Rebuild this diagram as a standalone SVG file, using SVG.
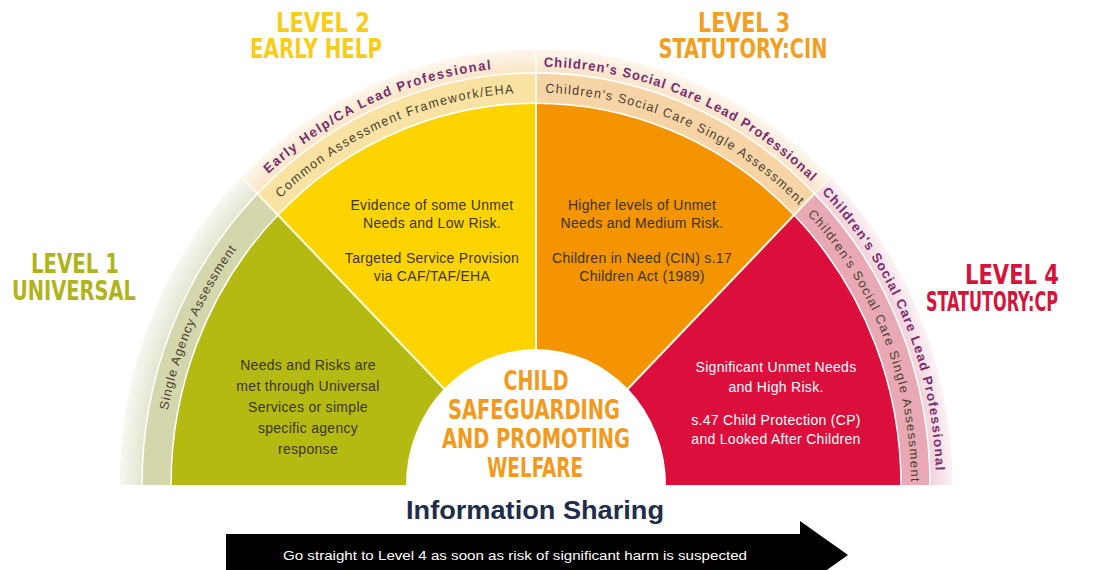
<svg xmlns="http://www.w3.org/2000/svg" width="1096" height="570" viewBox="0 0 1096 570">
<style>
.head{font-family:"Liberation Sans Narrow","DejaVu Sans Condensed","Liberation Sans",sans-serif;font-weight:bold;font-size:27px;text-anchor:middle}
.center{font-family:"Liberation Sans Narrow","DejaVu Sans Condensed","Liberation Sans",sans-serif;font-weight:bold;font-size:26px;text-anchor:middle;fill:#f39a1e}
.body{font-family:"Liberation Sans",Arial,sans-serif;font-size:14px;text-anchor:middle;fill:#3b3522;letter-spacing:0.3px}
.bodyw{font-family:"Liberation Sans",Arial,sans-serif;font-size:14px;text-anchor:middle;fill:#ffffff;letter-spacing:0.3px}
.lead{font-family:"Liberation Sans",Arial,sans-serif;font-weight:bold;font-size:13px;fill:#7a2c6e}
.assess{font-family:"Liberation Sans",Arial,sans-serif;font-size:12.5px;fill:#4a4030}
.div{stroke:#fffbe6;stroke-width:2;fill:none}
.ring{stroke:#ffffff;stroke-width:1.5;fill:none}
</style>
<defs>
<radialGradient id="fade" gradientUnits="userSpaceOnUse" cx="0" cy="0" r="416">
<stop offset="0.947" stop-color="#ffffff" stop-opacity="0"/>
<stop offset="1" stop-color="#ffffff" stop-opacity="0.7"/>
</radialGradient>
<path id="p1i" d="M-373.57,-32.68 A375,375 0 0 1 -265.17,-265.17"/>
<path id="p2o" d="M-277.86,-287.74 A400,400 0 0 1 -13.96,-399.76"/>
<path id="p2i" d="M-260.50,-269.75 A375,375 0 0 1 -13.09,-374.77"/>
<path id="p3o" d="M0,-400 A400,400 0 0 1 287.74,-277.86"/>
<path id="p3i" d="M0,-375 A375,375 0 0 1 269.75,-260.50"/>
<path id="p4o" d="M282.84,-282.84 A400,400 0 0 1 400,0"/>
<path id="p4i" d="M265.17,-265.17 A375,375 0 0 1 375,0"/>
</defs>
<rect width="1096" height="570" fill="#ffffff"/>

<g transform="translate(536,485) scale(1,1.046)">
  <g id="level1">
    <path d="M0,0 L-365,0 A365,365 0 0 1 -258.09,-258.09 Z" fill="#b4ba12"/>
    <path d="M-394,0 A394,394 0 0 1 -278.60,-278.60 L-258.09,-258.09 A365,365 0 0 0 -365,0 Z" fill="#d4d6ac"/>
    <path d="M-416,0 A416,416 0 0 1 -294.16,-294.16 L-278.60,-278.60 A394,394 0 0 0 -394,0 Z" fill="#e4e6d2"/>
    <text class="assess" font-size="12"><textPath href="#p1i" startOffset="39" textLength="170" lengthAdjust="spacing">Single Agency Assessment</textPath></text>
  </g>
  <g id="level2">
    <path d="M0,0 L-258.09,-258.09 A365,365 0 0 1 0,-365 Z" fill="#fed400"/>
    <path d="M-278.60,-278.60 A394,394 0 0 1 0,-394 L0,-365 A365,365 0 0 0 -258.09,-258.09 Z" fill="#fae3a2"/>
    <path d="M-294.16,-294.16 A416,416 0 0 1 0,-416 L0,-394 A394,394 0 0 0 -278.60,-278.60 Z" fill="#fbe4c4"/>
  </g>
  <g id="level3">
    <path d="M0,0 L0,-365 A365,365 0 0 1 258.09,-258.09 Z" fill="#f39400"/>
    <path d="M0,-394 A394,394 0 0 1 278.60,-278.60 L258.09,-258.09 A365,365 0 0 0 0,-365 Z" fill="#f7d4a6"/>
    <path d="M0,-416 A416,416 0 0 1 294.16,-294.16 L278.60,-278.60 A394,394 0 0 0 0,-394 Z" fill="#fbe2c6"/>
  </g>
  <g id="level4">
    <path d="M0,0 L258.09,-258.09 A365,365 0 0 1 365,0 Z" fill="#dc0f3c"/>
    <path d="M278.60,-278.60 A394,394 0 0 1 394,0 L365,0 A365,365 0 0 0 258.09,-258.09 Z" fill="#e8a9b5"/>
    <path d="M294.16,-294.16 A416,416 0 0 1 416,0 L394,0 A394,394 0 0 0 278.60,-278.60 Z" fill="#f2d2da"/>
  </g>
  <path d="M-416,0 A416,416 0 0 1 416,0 L394,0 A394,394 0 0 0 -394,0 Z" fill="url(#fade)"/>
  <path class="ring" d="M-394,0 A394,394 0 0 1 394,0"/>
  <path class="ring" stroke="#fff6c0" d="M-365,0 A365,365 0 0 1 365,0"/>
  <line class="div" x1="-90" y1="-90" x2="-294.16" y2="-294.16"/>
  <line class="div" x1="0" y1="-120" x2="0" y2="-416"/>
  <line class="div" x1="90" y1="-90" x2="294.16" y2="-294.16"/>
  <text class="lead"><textPath href="#p2o" startOffset="14" textLength="248" lengthAdjust="spacing">Early Help/CA Lead Professional</textPath></text>
  <text class="assess"><textPath href="#p2i" startOffset="6.5" textLength="259" lengthAdjust="spacing">Common Assessment Framework/EHA</textPath></text>
  <text class="lead"><textPath href="#p3o" startOffset="7.7" textLength="296" lengthAdjust="spacing">Children's Social Care Lead Professional</textPath></text>
  <text class="assess"><textPath href="#p3i" startOffset="9.2" textLength="282" lengthAdjust="spacing">Children's Social Care Single Assessment</textPath></text>
  <text class="lead" font-weight="normal"><textPath href="#p4o" startOffset="4.2" textLength="296" lengthAdjust="spacing">Children's Social Care Lead Professional</textPath></text>
  <text class="assess"><textPath href="#p4i" startOffset="9.2" textLength="282" lengthAdjust="spacing">Children's Social Care Single Assessment</textPath></text>
  <path d="M-130,0 A130,130 0 0 1 130,0 Z" fill="#ffffff"/>
</g>

<g id="level1-text">
  <text class="head" fill="#b0b41c" x="75" y="273" textLength="88" lengthAdjust="spacingAndGlyphs">LEVEL 1</text>
  <text class="head" fill="#b0b41c" x="74" y="300" textLength="124" lengthAdjust="spacingAndGlyphs">UNIVERSAL</text>
  <text class="body" x="308" y="370">Needs and Risks are</text>
  <text class="body" x="308" y="391">met through Universal</text>
  <text class="body" x="308" y="412">Services or simple</text>
  <text class="body" x="308" y="433">specific agency</text>
  <text class="body" x="308" y="454">response</text>
</g>
<g id="level2-text">
  <text class="head" fill="#f7cd1a" x="323" y="32" textLength="94" lengthAdjust="spacingAndGlyphs">LEVEL 2</text>
  <text class="head" fill="#f7cd1a" x="316" y="58" textLength="132" lengthAdjust="spacingAndGlyphs">EARLY HELP</text>
  <text class="body" x="432" y="210">Evidence of some Unmet</text>
  <text class="body" x="432" y="228">Needs and Low Risk.</text>
  <text class="body" x="432" y="263">Targeted Service Provision</text>
  <text class="body" x="432" y="281">via CAF/TAF/EHA</text>
</g>
<g id="level3-text">
  <text class="head" fill="#f2a022" x="744" y="32" textLength="92" lengthAdjust="spacingAndGlyphs">LEVEL 3</text>
  <text class="head" fill="#f2a022" x="743" y="58" textLength="169" lengthAdjust="spacingAndGlyphs">STATUTORY:CIN</text>
  <text class="body" x="642" y="210">Higher levels of Unmet</text>
  <text class="body" x="642" y="228">Needs and Medium Risk.</text>
  <text class="body" x="642" y="263">Children in Need (CIN) s.17</text>
  <text class="body" x="642" y="281">Children Act (1989)</text>
</g>
<g id="level4-text">
  <text class="head" fill="#d4143a" x="1012" y="284" textLength="94" lengthAdjust="spacingAndGlyphs">LEVEL 4</text>
  <text class="head" fill="#d4143a" x="992" y="311" textLength="132" lengthAdjust="spacingAndGlyphs">STATUTORY:CP</text>
  <text class="bodyw" x="776" y="372">Significant Unmet Needs</text>
  <text class="bodyw" x="776" y="392">and High Risk.</text>
  <text class="bodyw" x="776" y="425">s.47 Child Protection (CP)</text>
  <text class="bodyw" x="776" y="444">and Looked After Children</text>
</g>
<g id="center">
  <text class="center" x="536" y="390" textLength="65" lengthAdjust="spacingAndGlyphs">CHILD</text>
  <text class="center" x="534" y="419" textLength="172" lengthAdjust="spacingAndGlyphs">SAFEGUARDING</text>
  <text class="center" x="536" y="448" textLength="188" lengthAdjust="spacingAndGlyphs">AND PROMOTING</text>
  <text class="center" x="535" y="477" textLength="96" lengthAdjust="spacingAndGlyphs">WELFARE</text>
</g>
<g id="info-sharing">
  <text x="535" y="519" font-family="Liberation Sans, Arial, sans-serif" font-weight="bold" font-size="25" fill="#1f2d4d" text-anchor="middle" textLength="258" lengthAdjust="spacingAndGlyphs">Information Sharing</text>
</g>
<g id="connectors">
  <g id="arrow">
    <path d="M226,534 L800,534 L800,521 L848,555 L800,589 L800,576 L226,576 Z" fill="#000000"/>
    <text x="515" y="560" font-family="Liberation Sans, Arial, sans-serif" font-size="12.5" fill="#ffffff" text-anchor="middle" textLength="464" lengthAdjust="spacingAndGlyphs">Go straight to Level 4 as soon as risk of significant harm is suspected</text>
  </g>
</g>
</svg>
